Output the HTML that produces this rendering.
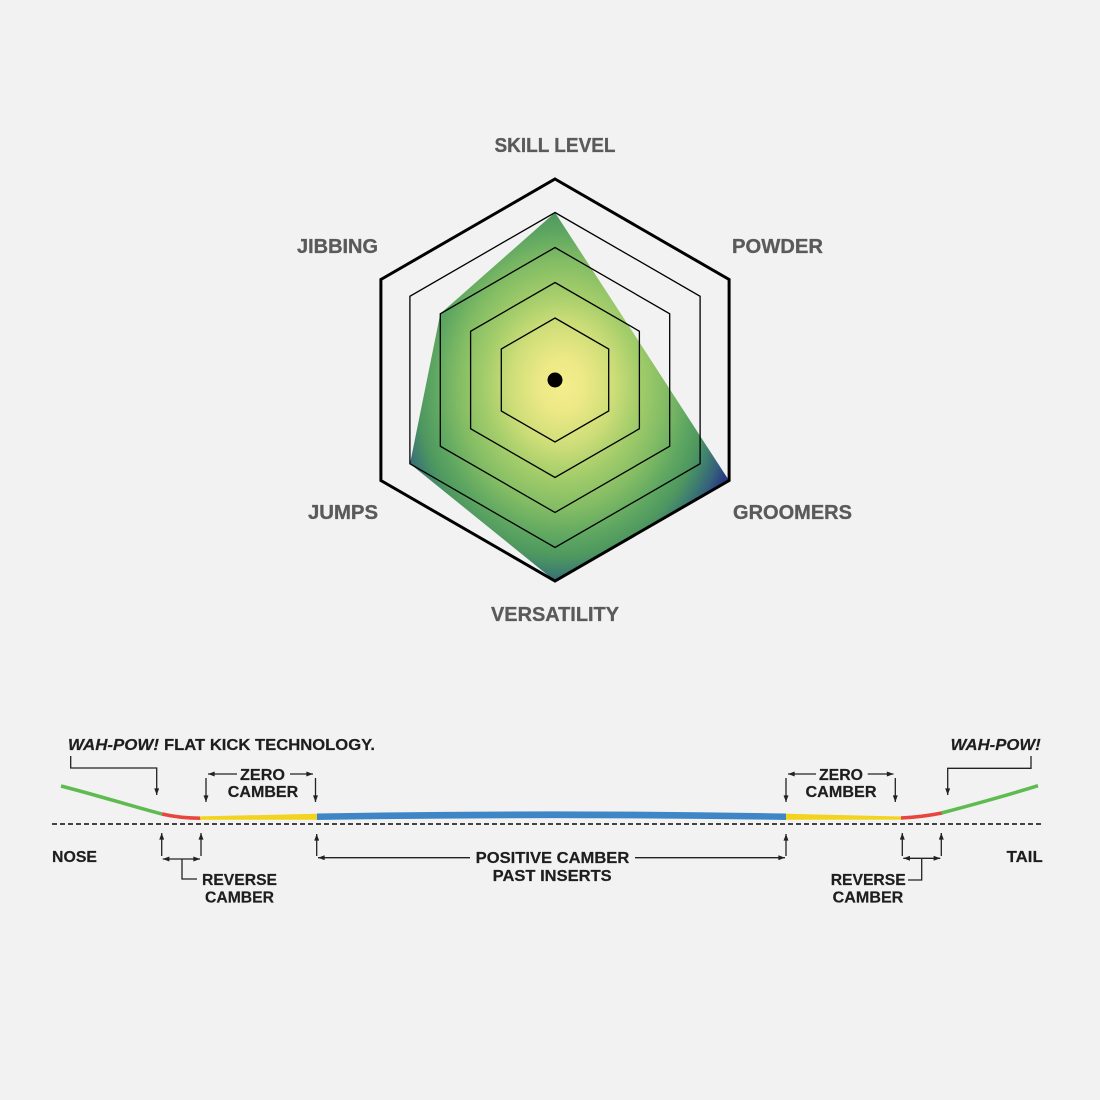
<!DOCTYPE html>
<html>
<head>
<meta charset="utf-8">
<style>
  html,body{margin:0;padding:0;background:#f2f2f2;}
  svg{display:block;}
  .lbl{font-family:"Liberation Sans",Arial,sans-serif;font-weight:bold;font-size:20px;fill:#5a5a5a;stroke:#5a5a5a;stroke-width:0.3;}
  .d{font-family:"Liberation Sans",Arial,sans-serif;font-weight:bold;font-size:16px;fill:#1e1e1e;stroke:#1e1e1e;stroke-width:0.2;}
  .ld{fill:none;stroke:#222;stroke-width:1.3;}
</style>
</head>
<body>
<svg width="1100" height="1100" viewBox="0 0 1100 1100" xmlns="http://www.w3.org/2000/svg">
  <defs>
    <radialGradient id="rg" gradientUnits="userSpaceOnUse" cx="0" cy="0" r="1" gradientTransform="translate(562 385) scale(180 215)">
      <stop offset="0" stop-color="#f4ee8c"/>
      <stop offset="0.12" stop-color="#ede986"/>
      <stop offset="0.28" stop-color="#cfde79"/>
      <stop offset="0.42" stop-color="#a6ce6b"/>
      <stop offset="0.58" stop-color="#82bc64"/>
      <stop offset="0.72" stop-color="#5ca561"/>
      <stop offset="0.80" stop-color="#4e9860"/>
      <stop offset="0.87" stop-color="#3f7f6e"/>
      <stop offset="0.94" stop-color="#35607c"/>
      <stop offset="1" stop-color="#283a80"/>
    </radialGradient>
    <marker id="ah" viewBox="0 0 8 6" refX="8" refY="3" markerWidth="7" markerHeight="5" markerUnits="userSpaceOnUse" orient="auto">
      <path d="M0,0 L8,3 L0,6 z" fill="#222"/>
    </marker>
  </defs>

  <rect width="1100" height="1100" fill="#f2f2f2"/>

  <!-- data polygon -->
  <polygon points="555,212.5 634,334 729,480.5 555,581 410,463.75 440.3,313.75" fill="url(#rg)"/>

  <!-- grid hexagons -->
  <g fill="none" stroke="#000">
    <polygon stroke-width="1.3" points="555,318 608.7,349 608.7,411 555,442 501.3,411 501.3,349"/>
    <polygon stroke-width="1.3" points="555,282.5 639.4,331.25 639.4,428.75 555,477.5 470.6,428.75 470.6,331.25"/>
    <polygon stroke-width="1.3" points="555,247.5 669.7,313.75 669.7,446.25 555,512.5 440.3,446.25 440.3,313.75"/>
    <polygon stroke-width="1.3" points="555,212.5 700.1,296.25 700.1,463.75 555,547.5 409.9,463.75 409.9,296.25"/>
    <polygon stroke-width="3" stroke-linejoin="miter" points="555,179 729.1,279.5 729.1,480.5 555,581 380.9,480.5 380.9,279.5"/>
  </g>
  <circle cx="555" cy="380" r="7.5" fill="#000"/>

  <!-- radar labels -->
  <text class="lbl" x="555" y="152" text-anchor="middle" textLength="121" lengthAdjust="spacingAndGlyphs">SKILL LEVEL</text>
  <text class="lbl" x="337.5" y="253" text-anchor="middle" textLength="81" lengthAdjust="spacingAndGlyphs">JIBBING</text>
  <text class="lbl" x="777.5" y="253" text-anchor="middle" textLength="91" lengthAdjust="spacingAndGlyphs">POWDER</text>
  <text class="lbl" x="343" y="519" text-anchor="middle" textLength="70" lengthAdjust="spacingAndGlyphs">JUMPS</text>
  <text class="lbl" x="792.5" y="519" text-anchor="middle" textLength="119" lengthAdjust="spacingAndGlyphs">GROOMERS</text>
  <text class="lbl" x="555" y="621" text-anchor="middle" textLength="128" lengthAdjust="spacingAndGlyphs">VERSATILITY</text>

  <!-- camber diagram -->
  <line x1="52" y1="824" x2="1042" y2="824" stroke="#444" stroke-width="2" stroke-dasharray="5,3"/>

  <!-- nose -->
  <path d="M61,786 C100,796 138,808 162,814" fill="none" stroke="#5dbb4f" stroke-width="3.5"/>
  <path d="M162,814 Q180,818.2 201,818.2" fill="none" stroke="#e8463d" stroke-width="3.5"/>
  <polygon points="200,816.4 317,813.8 317,819.8 200,819.8" fill="#f3d31b"/>
  <!-- blue -->
  <path d="M317,813.5 Q551,809.3 786,813.5 L786,820 Q551,816.3 317,820 Z" fill="#3e86c6"/>
  <!-- tail -->
  <polygon points="786,813.8 902,816.5 902,819.6 786,819.8" fill="#f3d31b"/>
  <path d="M901,818 Q922,817 942,813" fill="none" stroke="#e8463d" stroke-width="3.5"/>
  <path d="M941.5,813 C968,806 1005,796 1038,785.7" fill="none" stroke="#5dbb4f" stroke-width="3.5"/>

  <!-- leader lines -->
  <g class="ld">
    <polyline points="70.7,756 70.7,768 156.7,768 156.7,795" marker-end="url(#ah)"/>
    <polyline points="1031,756 1031,768.3 947.7,768.3 947.7,795" marker-end="url(#ah)"/>

    <!-- zero left -->
    <line x1="206" y1="778" x2="206" y2="802" marker-end="url(#ah)"/>
    <line x1="315.5" y1="778" x2="315.5" y2="802" marker-end="url(#ah)"/>
    <line x1="237" y1="774" x2="208" y2="774" marker-end="url(#ah)"/>
    <line x1="290" y1="774" x2="313" y2="774" marker-end="url(#ah)"/>

    <!-- zero right -->
    <line x1="786" y1="778" x2="786" y2="802" marker-end="url(#ah)"/>
    <line x1="895.3" y1="778" x2="895.3" y2="802" marker-end="url(#ah)"/>
    <line x1="816" y1="774" x2="788" y2="774" marker-end="url(#ah)"/>
    <line x1="867.7" y1="774" x2="893.5" y2="774" marker-end="url(#ah)"/>

    <!-- reverse left -->
    <line x1="161.7" y1="856" x2="161.7" y2="833" marker-end="url(#ah)"/>
    <line x1="201" y1="856" x2="201" y2="833" marker-end="url(#ah)"/>
    <line x1="182" y1="859" x2="162.7" y2="859" marker-end="url(#ah)"/>
    <line x1="182" y1="859" x2="200" y2="859" marker-end="url(#ah)"/>
    <polyline points="182,859 182,879 197,879"/>

    <!-- reverse right -->
    <line x1="902.3" y1="856" x2="902.3" y2="833" marker-end="url(#ah)"/>
    <line x1="941.3" y1="856" x2="941.3" y2="833" marker-end="url(#ah)"/>
    <line x1="921.7" y1="858.3" x2="903.3" y2="858.3" marker-end="url(#ah)"/>
    <line x1="921.7" y1="858.3" x2="940.3" y2="858.3" marker-end="url(#ah)"/>
    <polyline points="921.7,858.3 921.7,880 908,880"/>

    <!-- positive -->
    <line x1="316.7" y1="856" x2="316.7" y2="834" marker-end="url(#ah)"/>
    <line x1="786" y1="856" x2="786" y2="834" marker-end="url(#ah)"/>
    <line x1="470" y1="857.7" x2="318" y2="857.7" marker-end="url(#ah)"/>
    <line x1="635" y1="857.7" x2="785" y2="857.7" marker-end="url(#ah)"/>
  </g>

  <!-- diagram text -->
  <text class="d" x="68" y="750" font-style="italic" textLength="91" lengthAdjust="spacingAndGlyphs">WAH-POW!</text>
  <text class="d" x="164" y="750" textLength="211" lengthAdjust="spacingAndGlyphs">FLAT KICK TECHNOLOGY.</text>
  <text class="d" x="950.7" y="750" font-style="italic" textLength="90" lengthAdjust="spacingAndGlyphs">WAH-POW!</text>

  <text class="d" x="262.5" y="780" text-anchor="middle" textLength="45" lengthAdjust="spacingAndGlyphs">ZERO</text>
  <text class="d" x="263" y="797" text-anchor="middle" textLength="70.5" lengthAdjust="spacingAndGlyphs">CAMBER</text>
  <text class="d" x="841" y="780" text-anchor="middle" textLength="44" lengthAdjust="spacingAndGlyphs">ZERO</text>
  <text class="d" x="841" y="797" text-anchor="middle" textLength="71" lengthAdjust="spacingAndGlyphs">CAMBER</text>

  <text class="d" x="52" y="862" textLength="45" lengthAdjust="spacingAndGlyphs">NOSE</text>
  <text class="d" x="1006.7" y="862" textLength="36" lengthAdjust="spacingAndGlyphs">TAIL</text>

  <text class="d" x="239.5" y="885" text-anchor="middle" textLength="75" lengthAdjust="spacingAndGlyphs">REVERSE</text>
  <text class="d" x="239.5" y="902.5" text-anchor="middle" textLength="69" lengthAdjust="spacingAndGlyphs">CAMBER</text>
  <text class="d" x="868.2" y="885" text-anchor="middle" textLength="75" lengthAdjust="spacingAndGlyphs">REVERSE</text>
  <text class="d" x="868" y="902.5" text-anchor="middle" textLength="70.6" lengthAdjust="spacingAndGlyphs">CAMBER</text>

  <text class="d" x="552.5" y="863" text-anchor="middle" textLength="153.6" lengthAdjust="spacingAndGlyphs">POSITIVE CAMBER</text>
  <text class="d" x="552.2" y="881" text-anchor="middle" textLength="119" lengthAdjust="spacingAndGlyphs">PAST INSERTS</text>
</svg>
</body>
</html>
